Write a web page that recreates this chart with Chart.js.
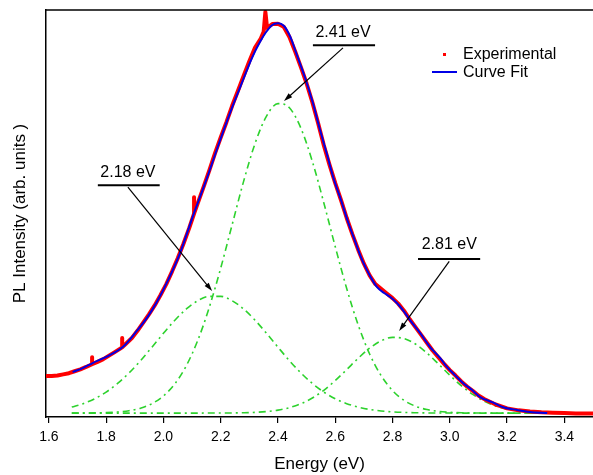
<!DOCTYPE html>
<html>
<head>
<meta charset="utf-8">
<script src="https://cdn.jsdelivr.net/npm/chart.js@4.4.1/dist/chart.umd.min.js"></script>
<style>
  html, body { margin: 0; padding: 0; background: #fff; overflow: hidden; }
</style>
</head>
<body>
<canvas id="chart" width="593" height="475"></canvas>
<script>
// eixo x
const energyTicks = [1.6, 1.8, 2.0, 2.2, 2.4, 2.6, 2.8, 3.0, 3.2, 3.4];

// curva de ajuste (azul)
const fitEnergy = [1.683, 1.718, 1.753, 1.806, 1.858, 1.907, 1.945, 1.977, 2.015, 2.057, 2.103, 2.152, 2.197, 2.239, 2.278, 2.309, 2.337, 2.358, 2.379, 2.400, 2.421, 2.442, 2.466, 2.494, 2.522, 2.547, 2.571, 2.596, 2.620, 2.645, 2.669, 2.694, 2.722, 2.746, 2.771, 2.792, 2.816, 2.837, 2.861, 2.896, 2.931, 2.966, 2.990, 3.018, 3.046, 3.078, 3.106, 3.148, 3.186, 3.235, 3.280, 3.340];
const fitIntensity = [0.105, 0.115, 0.128, 0.146, 0.169, 0.210, 0.246, 0.284, 0.338, 0.407, 0.504, 0.601, 0.696, 0.780, 0.852, 0.908, 0.949, 0.974, 0.992, 0.997, 0.990, 0.964, 0.916, 0.859, 0.793, 0.724, 0.662, 0.596, 0.545, 0.488, 0.440, 0.391, 0.350, 0.322, 0.307, 0.297, 0.281, 0.263, 0.238, 0.205, 0.169, 0.141, 0.118, 0.097, 0.077, 0.059, 0.041, 0.028, 0.015, 0.008, 0.003, 0.000];

// dados experimentais (vermelho)
const expEnergy = [1.590, 1.610, 1.630, 1.650, 1.670, 1.690, 1.710, 1.730, 1.751, 1.751, 1.751, 1.770, 1.790, 1.810, 1.830, 1.856, 1.856, 1.856, 1.870, 1.890, 1.910, 1.930, 1.950, 1.970, 1.990, 2.010, 2.030, 2.050, 2.070, 2.090, 2.107, 2.107, 2.107, 2.120, 2.140, 2.160, 2.180, 2.200, 2.220, 2.240, 2.260, 2.280, 2.300, 2.320, 2.340, 2.350, 2.356, 2.362, 2.380, 2.400, 2.420, 2.440, 2.460, 2.480, 2.500, 2.520, 2.540, 2.560, 2.580, 2.600, 2.620, 2.640, 2.660, 2.680, 2.700, 2.720, 2.740, 2.760, 2.780, 2.800, 2.820, 2.840, 2.860, 2.880, 2.900, 2.920, 2.940, 2.960, 2.980, 3.000, 3.020, 3.040, 3.060, 3.080, 3.100, 3.120, 3.140, 3.160, 3.180, 3.200, 3.240, 3.280, 3.320, 3.360, 3.400, 3.440, 3.500];
const expIntensity = [0.095, 0.095, 0.096, 0.099, 0.102, 0.107, 0.112, 0.118, 0.125, 0.143, 0.125, 0.131, 0.138, 0.147, 0.156, 0.168, 0.192, 0.168, 0.178, 0.192, 0.211, 0.232, 0.253, 0.276, 0.302, 0.330, 0.362, 0.396, 0.433, 0.473, 0.510, 0.552, 0.510, 0.537, 0.578, 0.620, 0.664, 0.705, 0.744, 0.786, 0.824, 0.862, 0.900, 0.935, 0.958, 0.975, 1.026, 0.985, 0.995, 0.996, 0.988, 0.962, 0.925, 0.885, 0.843, 0.795, 0.742, 0.685, 0.635, 0.588, 0.545, 0.499, 0.457, 0.418, 0.382, 0.352, 0.330, 0.318, 0.306, 0.294, 0.280, 0.262, 0.240, 0.220, 0.200, 0.180, 0.160, 0.143, 0.126, 0.110, 0.096, 0.081, 0.068, 0.057, 0.045, 0.036, 0.029, 0.022, 0.017, 0.012, 0.007, 0.004, 0.002, 0.001, 0.000, -0.001, -0.001];

// componentes gaussianas (verde)
const gaussEnergy = [1.68, 1.72, 1.76, 1.80, 1.84, 1.88, 1.92, 1.96, 2.00, 2.04, 2.08, 2.12, 2.16, 2.20, 2.24, 2.28, 2.32, 2.36, 2.40, 2.44, 2.48, 2.52, 2.56, 2.60, 2.64, 2.68, 2.72, 2.76, 2.80, 2.84, 2.88, 2.92, 2.96, 3.00, 3.04, 3.08, 3.12, 3.16, 3.20, 3.24, 3.28, 3.32, 3.36];
const peak218 = [0.0153, 0.0242, 0.0367, 0.0538, 0.0758, 0.1027, 0.1341, 0.1686, 0.2040, 0.2376, 0.2663, 0.2874, 0.2986, 0.2986, 0.2874, 0.2663, 0.2376, 0.2040, 0.1686, 0.1341, 0.1027, 0.0758, 0.0538, 0.0367, 0.0242, 0.0153, 0.0093, 0.0055, 0.0031, 0.0017, 0.0009, 0.0004, 0.0002, 0.0001, 0, 0, 0, 0, 0, 0, 0, 0, 0];
const peak241 = [0.0001, 0.0002, 0.0005, 0.0013, 0.0029, 0.0062, 0.0126, 0.0242, 0.0437, 0.0749, 0.1213, 0.1860, 0.2700, 0.3707, 0.4819, 0.5927, 0.6897, 0.7595, 0.7916, 0.7808, 0.7288, 0.6437, 0.5380, 0.4256, 0.3185, 0.2257, 0.1512, 0.0960, 0.0576, 0.0327, 0.0176, 0.0090, 0.0043, 0.0020, 0.0008, 0.0003, 0.0001, 0, 0, 0, 0, 0, 0];
const peak281 = [0, 0, 0, 0, 0, 0, 0, 0, 0, 0, 0, 0, 0.0001, 0.0002, 0.0004, 0.0009, 0.0019, 0.0040, 0.0076, 0.0139, 0.0239, 0.0385, 0.0583, 0.0831, 0.1113, 0.1402, 0.1660, 0.1849, 0.1936, 0.1907, 0.1766, 0.1537, 0.1259, 0.0969, 0.0702, 0.0478, 0.0306, 0.0184, 0.0104, 0.0055, 0.0028, 0.0013, 0.0006];

const peakLabels = ['2.18 eV', '2.41 eV', '2.81 eV'];

// posições das anotações (unidades dos eixos)
const notas = [
    { texto: peakLabels[0], tx: 1.876, ty: 0.614, linha: [1.771, 1.987, 0.583], de: [1.876, 0.578], para: [2.170, 0.312] },
    { texto: peakLabels[1], tx: 2.627, ty: 0.972, linha: [2.522, 2.739, 0.941], de: [2.627, 0.934], para: [2.421, 0.798] },
    { texto: peakLabels[2], tx: 2.998, ty: 0.432, linha: [2.889, 3.106, 0.394], de: [2.998, 0.388], para: [2.823, 0.210] }
];

const pares = (xs, ys) => xs.map((x, i) => ({ x: x, y: ys[i] }));

const fonte = '"Liberation Sans", Arial, Helvetica, sans-serif';
const verde = 'rgb(45,210,45)';
const tracejado = [7, 4, 2, 4];

const extras = {
    id: 'extras',
    afterDatasetsDraw(chart) {
        const ctx = chart.ctx;
        const xs = chart.scales.x;
        const ys = chart.scales.y;
        const area = chart.chartArea;
        ctx.save();
        // linha superior
        ctx.strokeStyle = '#000';
        ctx.lineWidth = 1.5;
        ctx.beginPath();
        ctx.moveTo(area.left, area.top);
        ctx.lineTo(chart.width, area.top);
        ctx.stroke();

        // anotações com setas
        ctx.font = '16px ' + fonte;
        ctx.fillStyle = '#000';
        ctx.textAlign = 'center';
        ctx.textBaseline = 'middle';
        notas.forEach(n => {
            ctx.fillText(n.texto, xs.getPixelForValue(n.tx), ys.getPixelForValue(n.ty));
            ctx.lineWidth = 2;
            ctx.beginPath();
            ctx.moveTo(xs.getPixelForValue(n.linha[0]), ys.getPixelForValue(n.linha[2]));
            ctx.lineTo(xs.getPixelForValue(n.linha[1]), ys.getPixelForValue(n.linha[2]));
            ctx.stroke();
            const x0 = xs.getPixelForValue(n.de[0]), y0 = ys.getPixelForValue(n.de[1]);
            const x1 = xs.getPixelForValue(n.para[0]), y1 = ys.getPixelForValue(n.para[1]);
            const ang = Math.atan2(y1 - y0, x1 - x0);
            const tam = 9;
            ctx.lineWidth = 1.2;
            ctx.beginPath();
            ctx.moveTo(x0, y0);
            ctx.lineTo(x1 - tam * 0.8 * Math.cos(ang), y1 - tam * 0.8 * Math.sin(ang));
            ctx.stroke();
            ctx.beginPath();
            ctx.moveTo(x1, y1);
            ctx.lineTo(x1 - tam * Math.cos(ang - 0.3), y1 - tam * Math.sin(ang - 0.3));
            ctx.lineTo(x1 - tam * Math.cos(ang + 0.3), y1 - tam * Math.sin(ang + 0.3));
            ctx.closePath();
            ctx.fill();
        });

        // legenda
        ctx.textAlign = 'left';
        ctx.fillStyle = 'rgb(255,0,0)';
        ctx.fillRect(443, 53, 3, 3);
        ctx.strokeStyle = 'rgb(0,0,230)';
        ctx.lineWidth = 2;
        ctx.beginPath();
        ctx.moveTo(432, 72);
        ctx.lineTo(457, 72);
        ctx.stroke();
        ctx.fillStyle = '#000';
        ctx.fillText('Experimental', 463, 55);
        ctx.fillText('Curve Fit', 463, 73);
        ctx.restore();
    }
};

const ctx = document.getElementById('chart').getContext('2d');
const chart = new Chart(ctx, {
    type: 'line',
    data: {
        datasets: [
            {
                label: 'Curve Fit',
                data: pares(fitEnergy, fitIntensity),
                borderColor: 'rgb(0,0,230)',
                borderWidth: 2,
                pointRadius: 0,
                cubicInterpolationMode: 'monotone'
            },
            {
                label: 'Experimental',
                data: pares(expEnergy, expIntensity),
                borderColor: 'rgb(255,0,0)',
                borderWidth: 4,
                borderJoinStyle: 'round',
                borderCapStyle: 'round',
                pointRadius: 0,
                tension: 0
            },
            {
                label: '2.18 eV',
                data: pares(gaussEnergy, peak218),
                borderColor: verde,
                borderWidth: 1.6,
                borderDash: tracejado,
                pointRadius: 0,
                cubicInterpolationMode: 'monotone'
            },
            {
                label: '2.41 eV',
                data: pares(gaussEnergy, peak241),
                borderColor: verde,
                borderWidth: 1.6,
                borderDash: tracejado,
                pointRadius: 0,
                cubicInterpolationMode: 'monotone'
            },
            {
                label: '2.81 eV',
                data: pares(gaussEnergy, peak281),
                borderColor: verde,
                borderWidth: 1.6,
                borderDash: tracejado,
                pointRadius: 0,
                cubicInterpolationMode: 'monotone'
            }
        ]
    },
    options: {
        responsive: false,
        animation: false,
        devicePixelRatio: 1,
        layout: { padding: { top: 10, right: 0, left: 0, bottom: 0 } },
        plugins: {
            legend: { display: false },
            tooltip: { enabled: false }
        },
        scales: {
            x: {
                type: 'linear',
                min: 1.59,
                max: 3.5,
                afterBuildTicks: (axis) => { axis.ticks = energyTicks.map(v => ({ value: v })); },
                afterFit: (axis) => { axis.height = 58; },
                grid: { drawOnChartArea: false, drawTicks: true, tickLength: 6, color: '#000', lineWidth: 1.2 },
                border: { display: true, color: '#000', width: 1.5 },
                ticks: {
                    color: '#000',
                    padding: 6,
                    maxRotation: 0,
                    font: { family: fonte, size: 14 },
                    callback: (v) => Number(v).toFixed(1)
                },
                title: {
                    display: true,
                    text: 'Energy (eV)',
                    color: '#000',
                    font: { family: fonte, size: 17 },
                    padding: { top: 0, bottom: 0 }
                }
            },
            y: {
                type: 'linear',
                min: -0.01,
                max: 1.031,
                afterFit: (axis) => { axis.width = 46; },
                grid: { display: false },
                border: { display: true, color: '#000', width: 1.5 },
                ticks: { display: false },
                title: {
                    display: true,
                    text: 'PL Intensity (arb. units )',
                    color: '#000',
                    font: { family: fonte, size: 17 },
                    padding: { top: 10, bottom: 0 }
                }
            }
        }
    },
    plugins: [extras]
});
</script>
</body>
</html>
